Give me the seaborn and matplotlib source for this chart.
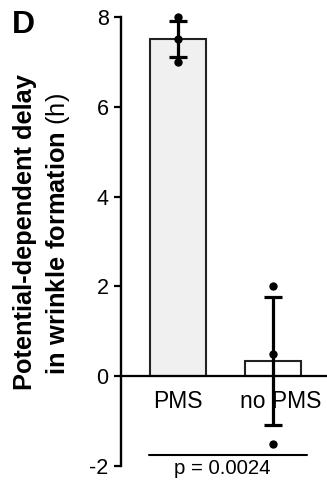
import numpy as np
import pandas as pd
import matplotlib
matplotlib.use('Agg')
import matplotlib.pyplot as plt
import matplotlib.transforms as mtransforms
import seaborn as sns

# values
groups = ['PMS', 'no PMS']
pms_points = [8.0, 7.5, 7.0]
nopms_points = [2.0, 0.5, -1.5]
err_vals = [0.4, 1.43]          # error bar half-lengths as drawn
bar_colors = ['#f0f0f0', '#ffffff']
p_text = 'p = 0.0024'

df = pd.DataFrame({
    'group': ['PMS'] * len(pms_points) + ['no PMS'] * len(nopms_points),
    'delay': pms_points + nopms_points,
})
means = df.groupby('group')['delay'].mean().reindex(groups).values

sns.set_style('ticks')
plt.rcParams['font.family'] = ['Liberation Sans', 'DejaVu Sans']
plt.rcParams['axes.unicode_minus'] = False
plt.rcParams['text.color'] = 'black'
plt.rcParams['axes.edgecolor'] = 'black'
plt.rcParams['ytick.color'] = 'black'
plt.rcParams['xtick.color'] = 'black'
plt.rcParams['ytick.labelcolor'] = 'black'
plt.rcParams['xtick.labelcolor'] = 'black'
plt.rcParams['mathtext.fontset'] = 'custom'
plt.rcParams['mathtext.rm'] = 'Liberation Sans'
plt.rcParams['mathtext.bf'] = 'Liberation Sans:bold'

fig = plt.figure(figsize=(3.27, 4.82), dpi=100)
ax = fig.add_axes([121/327, 16/482, 206/327, 449/482])

sns.barplot(data=df, x='group', y='delay', order=groups, hue='group',
            hue_order=groups, palette=bar_colors, legend=False,
            errorbar=None, width=0.59, edgecolor='#222222', linewidth=1.5,
            ax=ax)
ax.errorbar(x=[0, 1], y=means, yerr=err_vals, fmt='none', ecolor='black',
            elinewidth=2.3, capsize=6.5, capthick=2.3, zorder=3, clip_on=False)
sns.stripplot(data=df, x='group', y='delay', order=groups, jitter=False,
              color='black', size=6, ax=ax, zorder=4, clip_on=False)

ax.set_xlim(-0.595, 1.566)
ax.set_ylim(-2, 8)
ax.set_yticks([-2, 0, 2, 4, 6, 8])
ax.set_xlabel('')
ax.set_ylabel('')

for s in ['top', 'right']:
    ax.spines[s].set_visible(False)
ax.spines['bottom'].set_position(('data', 0))
ax.spines['bottom'].set_linewidth(1.6)
ax.spines['left'].set_linewidth(1.7)
ax.tick_params(axis='y', length=5, width=1.6, labelsize=15.5, pad=4)
ax.tick_params(axis='x', length=0, labelsize=16.5, pad=10)

# the "no PMS" label sits a little right of its bar in the original
lab = ax.get_xticklabels()[1]
lab.set_transform(lab.get_transform() +
                  mtransforms.ScaledTranslation(8/100, 0, fig.dpi_scale_trans))

# significance bar
ax.plot([-0.30, 1.354], [-1.75, -1.75], color='black', lw=1.5, clip_on=False)
ax.text(0.47, -2.17, p_text, ha='center', va='baseline', fontsize=14.7)

# y label in two lines, partly bold
fig.text(25/327, 1 - 232/482, 'Potential-dependent delay', rotation=90,
         ha='center', va='center', fontsize=18.3, fontweight='bold')
fig.text(58/327, 1 - 234/482, r'$\mathbf{in\ wrinkle\ formation}$ (h)',
         rotation=90, ha='center', va='center', fontsize=18.3)

fig.text(12/327, 1 - 33/482, 'D', fontsize=23, fontweight='bold',
         va='baseline')

fig.savefig('out.png', dpi=100)
